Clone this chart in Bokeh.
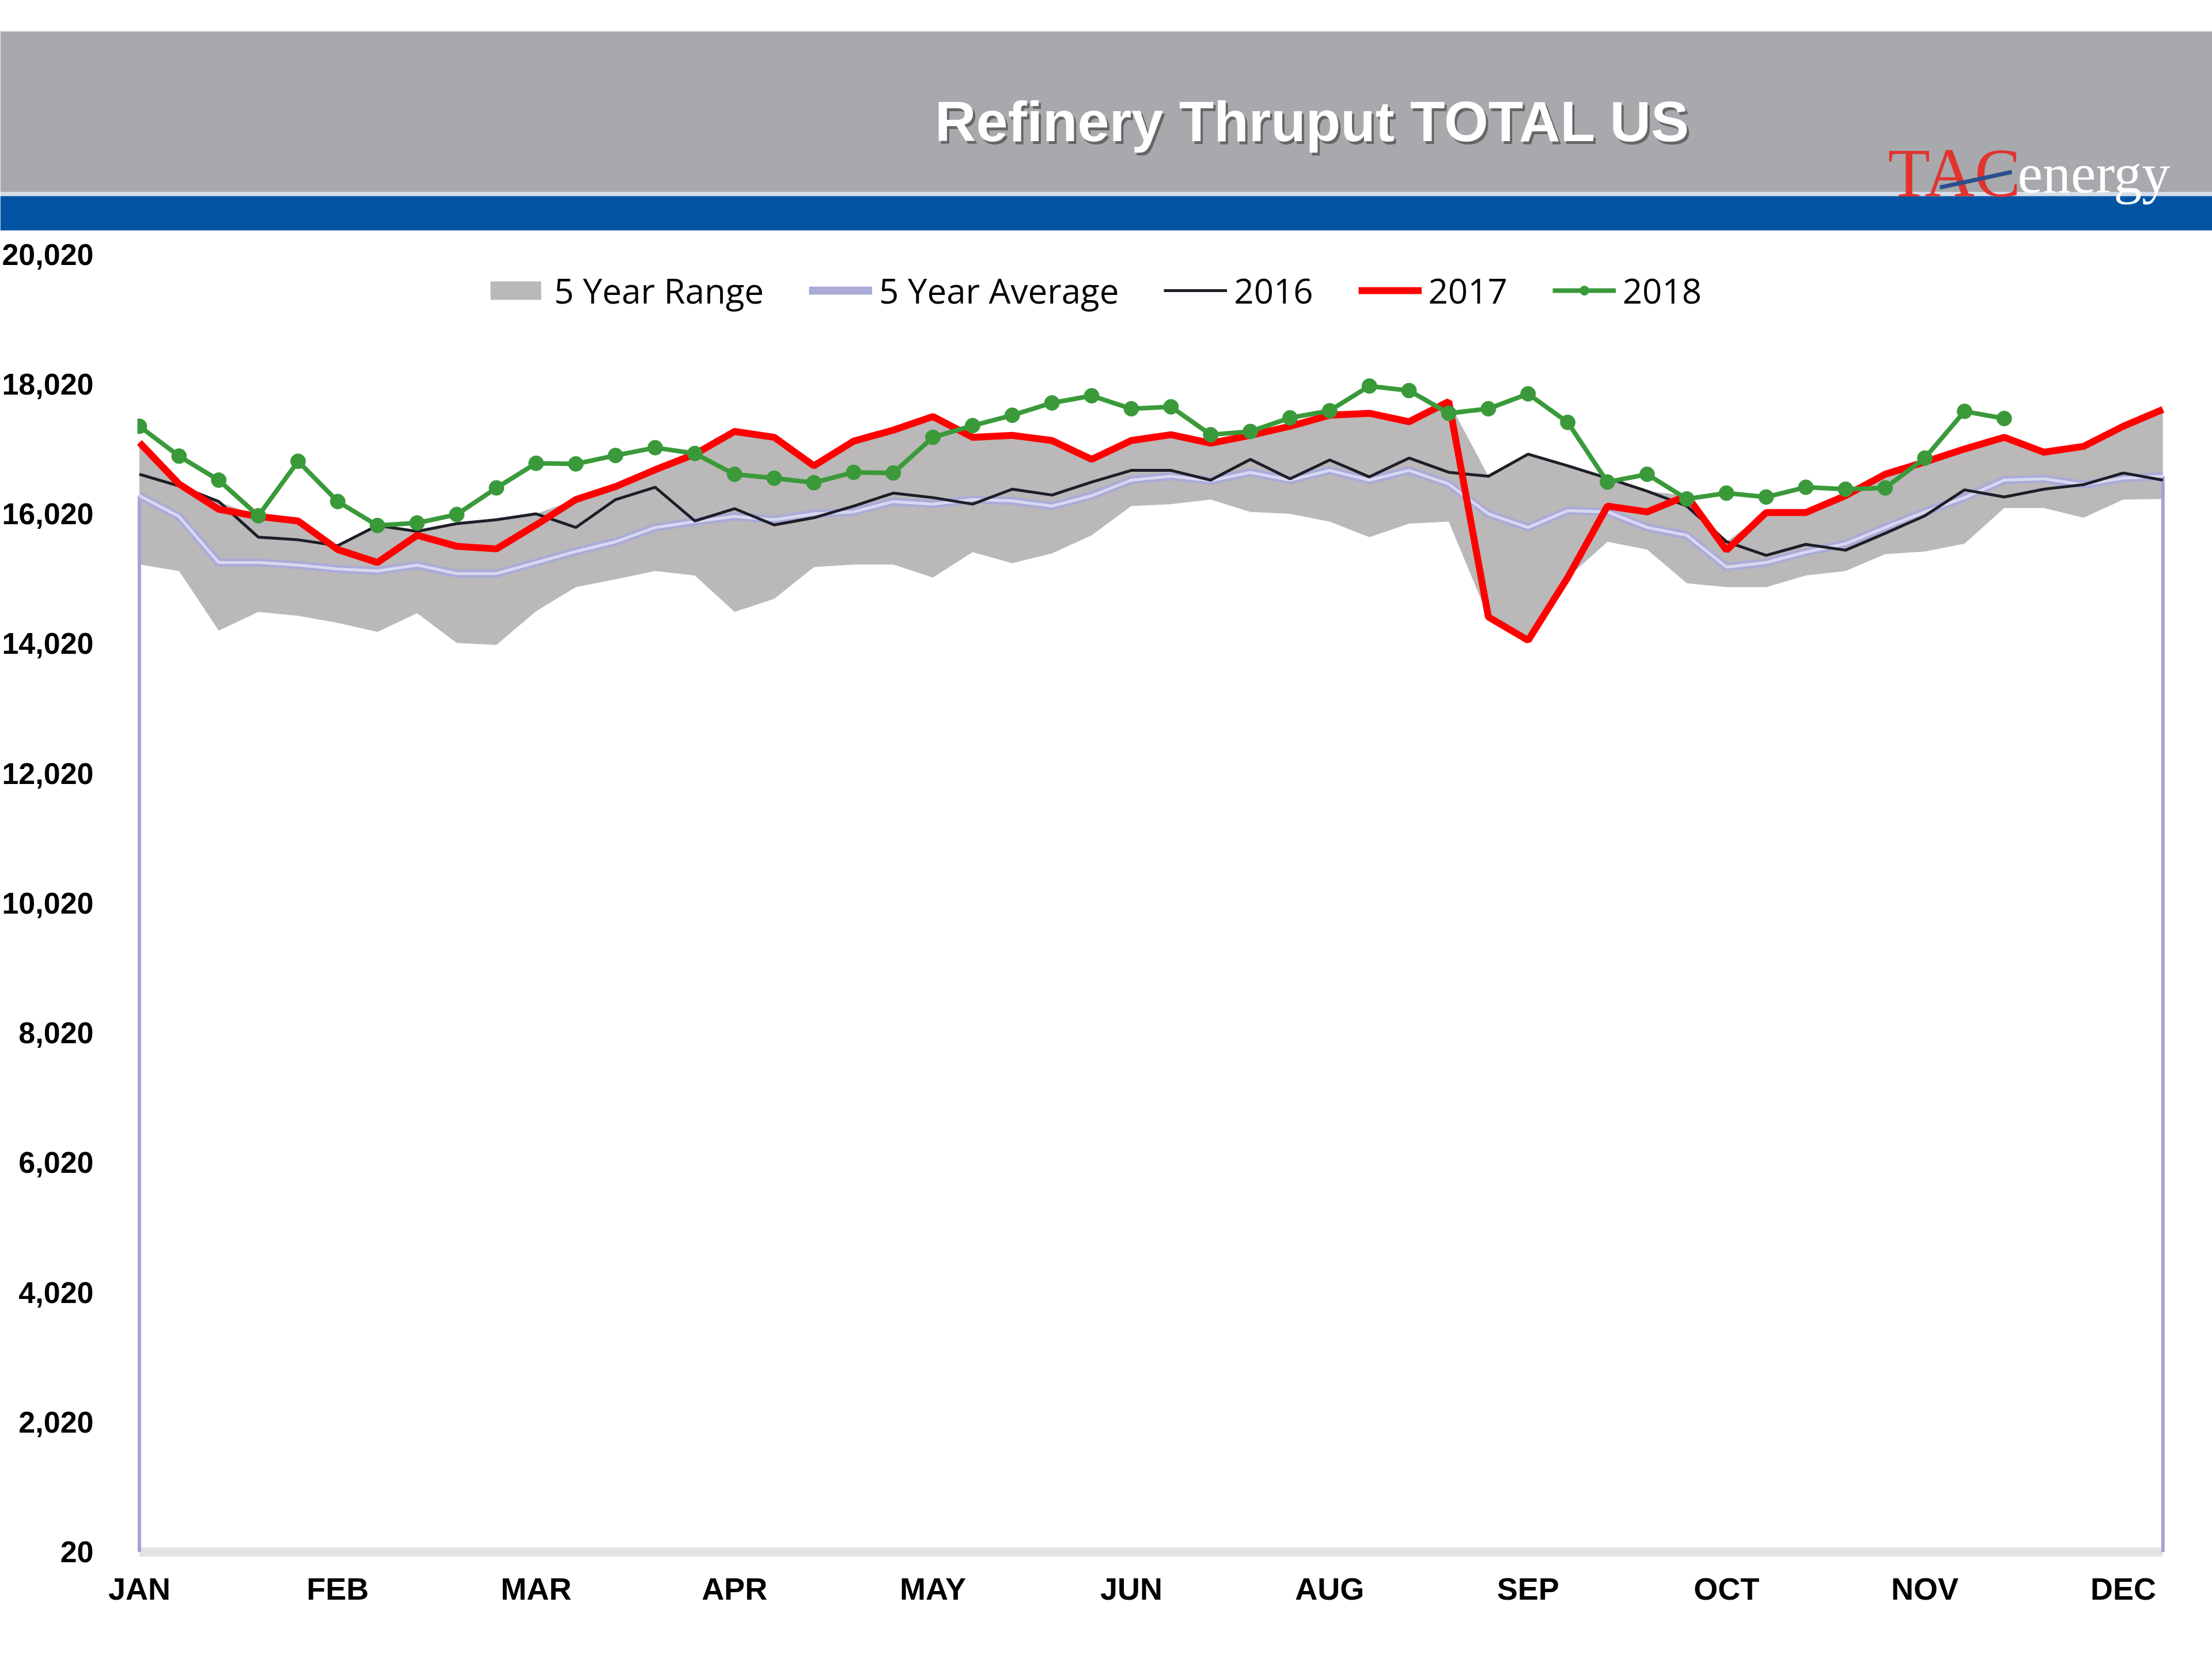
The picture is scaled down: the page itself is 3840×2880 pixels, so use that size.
from bokeh.plotting import figure
from bokeh.models import Range1d, Legend, LegendItem, FixedTicker, NumeralTickFormatter
from bokeh.embed import file_html
from bokeh.resources import INLINE
from bokeh.core.properties import value

# ---------------- data ----------------
WEEKS = list(range(52))
MONTH_TICKS = [0, 5, 10, 15, 20, 25, 30, 35, 40, 45, 50]
MONTH_LABELS = ["JAN", "FEB", "MAR", "APR", "MAY", "JUN", "AUG", "SEP", "OCT", "NOV", "DEC"]
Y_TICKS = [20, 2020, 4020, 6020, 8020, 10020, 12020, 14020, 16020, 18020, 20020]
Y_MIN = 20

RANGE_LOW = [15240, 15140, 14220, 14510, 14450, 14340, 14200, 14490, 14030, 14000,
             14520, 14890, 15010, 15140, 15070, 14510, 14710, 15200, 15240, 15240,
             15040, 15430, 15260, 15410, 15690, 16140, 16170, 16240, 16050, 16020,
             15900, 15660, 15870, 15900, 14430, 14070, 15040, 15590, 15470, 14950,
             14890, 14890, 15070, 15140, 15400, 15440, 15560, 16110, 16110, 15960,
             16240, 16250]
RANGE_HIGH = [17120, 16480, 16210, 15980, 15910, 15530, 15840, 15750, 15870, 15930,
              16020, 16240, 16440, 16700, 16940, 17290, 17200, 16760, 17140, 17310,
              17520, 17200, 17230, 17150, 16860, 17150, 17240, 17110, 17230, 17370,
              17540, 17570, 17440, 17750, 16600, 16940, 16760, 16570, 16370, 16300,
              15590, 16040, 16040, 16300, 16630, 16820, 17020, 17200, 16970, 17060,
              17370, 17630]
AVG_5YR = [16300, 15980, 15270, 15270, 15230, 15170, 15140, 15230, 15100, 15100,
           15270, 15440, 15590, 15810, 15900, 15980, 15930, 16020, 16050, 16210,
           16170, 16240, 16220, 16140, 16300, 16540, 16600, 16530, 16660, 16540,
           16690, 16540, 16690, 16480, 16020, 15810, 16070, 16050, 15810, 15690,
           15200, 15270, 15430, 15560, 15810, 16050, 16270, 16540, 16560, 16470,
           16570, 16600]
Y2016 = [16630, 16450, 16210, 15660, 15620, 15530, 15840, 15750, 15870, 15930,
         16020, 15810, 16240, 16430, 15910, 16100, 15850, 15960, 16140, 16340,
         16270, 16170, 16400, 16310, 16510, 16690, 16690, 16540, 16860, 16560,
         16850, 16590, 16880, 16660, 16600, 16940, 16760, 16570, 16370, 16140,
         15590, 15380, 15550, 15460, 15720, 15990, 16390, 16280, 16400, 16470,
         16650, 16540]
Y2017 = [17120, 16480, 16090, 15980, 15910, 15470, 15270, 15690, 15520, 15480,
         15850, 16240, 16440, 16700, 16940, 17290, 17200, 16760, 17140, 17310,
         17520, 17200, 17230, 17150, 16860, 17150, 17240, 17110, 17230, 17370,
         17540, 17570, 17440, 17750, 14430, 14070, 15040, 16140, 16050, 16300,
         15460, 16040, 16040, 16300, 16630, 16820, 17020, 17200, 16970, 17060,
         17370, 17630]
Y2018 = [17370, 16910, 16540, 15990, 16830, 16210, 15840, 15880, 16010, 16420,
         16800, 16790, 16920, 17040, 16950, 16630, 16570, 16500, 16660, 16650,
         17200, 17380, 17540, 17730, 17840, 17640, 17670, 17240, 17290, 17500,
         17610, 17990, 17920, 17570, 17640, 17870, 17430, 16510, 16630, 16250,
         16340, 16280, 16430, 16400, 16420, 16880, 17600, 17490]
WEEKS_2018 = WEEKS[:len(Y2018)]

TITLE = "Refinery Thruput TOTAL US"

# ---------------- layout constants ----------------
PAGE_W = 3840
HEADER_H = 400
MAIN_H = 2480

# ---------------- header (own root, pixel coordinates) ----------------
hdr = figure(width=PAGE_W, height=HEADER_H,
             x_range=Range1d(0, PAGE_W), y_range=Range1d(8 + HEADER_H, 8),
             output_backend="svg", toolbar_location=None,
             x_axis_location=None, y_axis_location=None, min_border=0)
hdr.grid.visible = False
hdr.outline_line_color = None
hdr.background_fill_color = "white"

hdr.quad(left=[0], right=[PAGE_W], top=[62], bottom=[341], color="#A7A9AC", line_color=None)
hdr.quad(left=[0], right=[PAGE_W], top=[341], bottom=[348], color="#D5DCE8", line_color=None)
hdr.quad(left=[0], right=[PAGE_W], top=[348], bottom=[8 + HEADER_H], color="#0254A3", line_color=None)

hdr.text(x=[2282], y=[223], text=[TITLE], text_align="center", text_baseline="alphabetic",
         text_font=value("Liberation Sans"), text_font_style="bold", text_font_size="99px",
         text_color="#4A4A4A", text_alpha=0.7)
hdr.text(x=[2278], y=[218], text=[TITLE], text_align="center", text_baseline="alphabetic",
         text_font=value("Liberation Sans"), text_font_style="bold", text_font_size="99px",
         text_color="white")

hdr.text(x=[3277], y=[308], text=["TAC"], text_align="left", text_baseline="alphabetic",
         text_font=value("Liberation Serif"), text_font_size="120px", text_color="#E2332F")
hdr.line(x=[3367, 3492], y=[333, 306], line_color="#2B4F8F", line_width=7)
hdr.text(x=[3502], y=[308], text=["energy"], text_align="left", text_baseline="alphabetic",
         text_font=value("Liberation Serif"), text_font_size="98px", text_color="white")

# ---------------- main chart ----------------
p = figure(width=PAGE_W, height=MAIN_H,
           x_range=Range1d(-0.05, 51.155), y_range=Range1d(-80, 20020),
           output_backend="svg", toolbar_location=None,
           min_border_left=237, min_border_right=75, min_border_top=41, min_border_bottom=175)
p.grid.visible = False
p.outline_line_color = None
p.background_fill_color = "white"

p.segment(x0=[WEEKS[0]], x1=[WEEKS[-1]], y0=[Y_MIN], y1=[Y_MIN], line_color="#E3E3E3", line_width=16)

r_range = p.varea(x=WEEKS, y1=RANGE_LOW, y2=RANGE_HIGH, fill_color="#BAB8B8")

p.segment(x0=[WEEKS[0], WEEKS[-1]], x1=[WEEKS[0], WEEKS[-1]],
          y0=[AVG_5YR[0], AVG_5YR[-1]], y1=[Y_MIN, Y_MIN],
          line_color="#A4A4D2", line_width=6)
r_avg = p.line(WEEKS, AVG_5YR, line_color="#ABABD8", line_width=14)
p.line(WEEKS, AVG_5YR, line_color="#D8D8F2", line_width=5)

r16 = p.line(WEEKS, Y2016, line_color="#1E1E28", line_width=5)
r17 = p.line(WEEKS, Y2017, line_color="#FF0000", line_width=12)
r18 = p.line(WEEKS_2018, Y2018, line_color="#3A9A3A", line_width=8)
r18m = p.scatter(WEEKS_2018, Y2018, size=26, marker="circle", fill_color="#3A9A3A", line_color="#3A9A3A")

p.xaxis.ticker = FixedTicker(ticks=MONTH_TICKS)
p.xaxis.major_label_overrides = {t: l for t, l in zip(MONTH_TICKS, MONTH_LABELS)}
p.yaxis.ticker = FixedTicker(ticks=Y_TICKS)
p.yaxis.formatter = NumeralTickFormatter(format="0,0")
for ax in (p.xaxis, p.yaxis):
    ax.axis_line_color = None
    ax.major_tick_line_color = None
    ax.minor_tick_line_color = None
    ax.major_label_text_font = "Liberation Sans"
    ax.major_label_text_font_style = "bold"
    ax.major_label_text_color = "#000000"
p.xaxis.major_label_text_font_size = "54px"
p.yaxis.major_label_text_font_size = "52px"
p.xaxis.major_label_standoff = 16
p.yaxis.major_label_standoff = 70

legend = Legend(items=[
    LegendItem(label="5 Year Range", renderers=[r_range]),
    LegendItem(label="5 Year Average", renderers=[r_avg]),
    LegendItem(label="2016", renderers=[r16]),
    LegendItem(label="2017", renderers=[r17]),
    LegendItem(label="2018", renderers=[r18, r18m]),
], orientation="horizontal", location=(602, 2160),
    border_line_color=None, background_fill_alpha=0,
    label_text_font="Open Sans", label_text_font_size="60px", label_text_color="#000000",
    glyph_width=110, glyph_height=40, label_height=40, label_standoff=12,
    spacing=78, padding=0, margin=0)
p.add_layout(legend)

open("out.html", "w").write(file_html([hdr, p], INLINE))
